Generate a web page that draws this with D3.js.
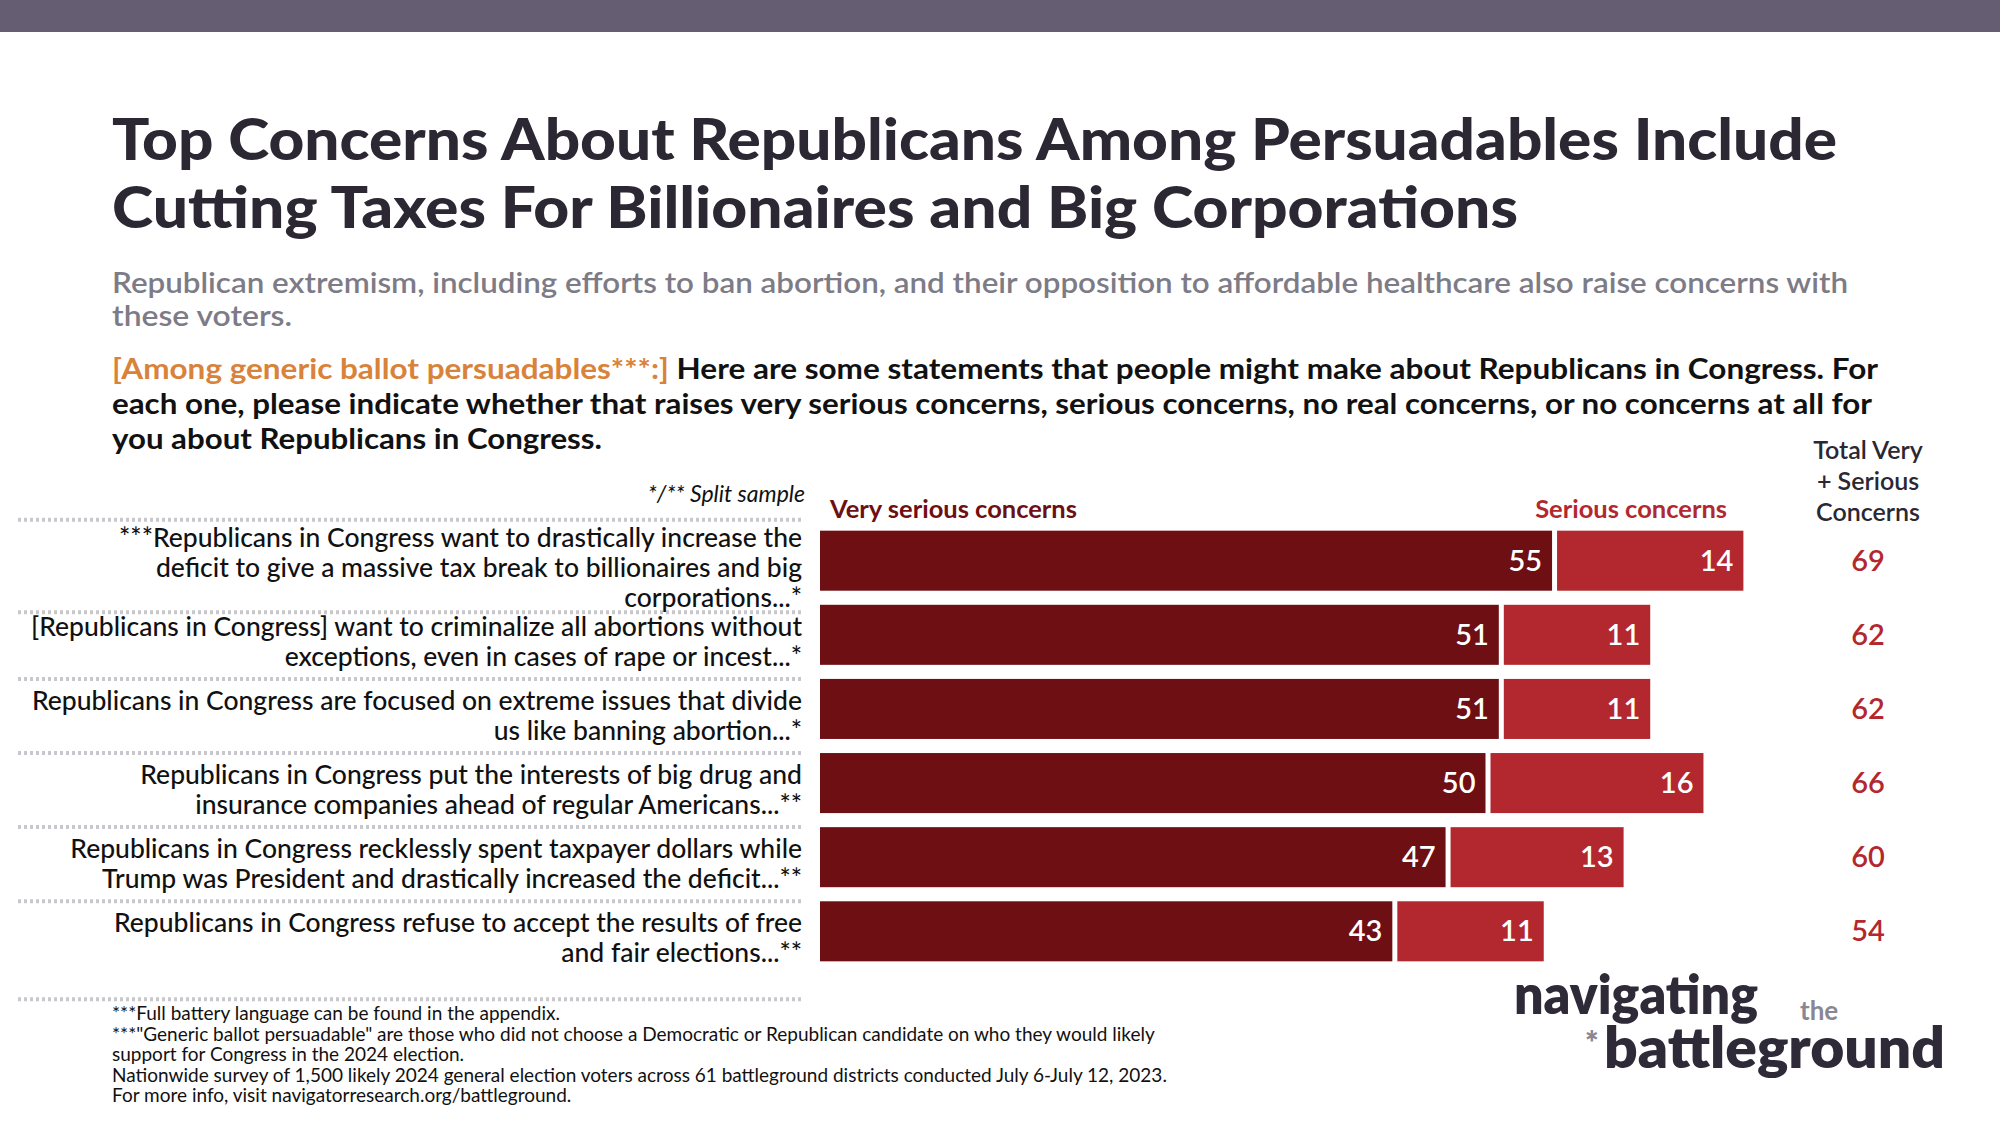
<!DOCTYPE html>
<html><head><meta charset="utf-8">
<script src="https://cdn.jsdelivr.net/npm/d3@7"></script>
<style>
body{margin:0;background:#fff;}
text{font-family:Lato,"Noto Sans",sans-serif;}
</style></head>
<body><svg id="chart" width="2000" height="1125"></svg>
<script>
var labels = [
  ['***Republicans in Congress want to drastically increase the', 'deficit to give a massive tax break to billionaires and big', 'corporations...*'],
  ['[Republicans in Congress] want to criminalize all abortions without', 'exceptions, even in cases of rape or incest...*'],
  ['Republicans in Congress are focused on extreme issues that divide', 'us like banning abortion...*'],
  ['Republicans in Congress put the interests of big drug and', 'insurance companies ahead of regular Americans...**'],
  ['Republicans in Congress recklessly spent taxpayer dollars while', 'Trump was President and drastically increased the deficit...**'],
  ['Republicans in Congress refuse to accept the results of free', 'and fair elections...**']
];
var verySerious = [55, 51, 51, 50, 47, 43];
var serious = [14, 11, 11, 16, 13, 11];
var totals = [69, 62, 62, 66, 60, 54];

var svg = d3.select('#chart');
var dark = '#6e0f13', red = '#b3282e';

svg.append('rect').attr('width', 2000).attr('height', 32).attr('fill', '#655e72');

function line(x, yy, size, weight, fill, txt, len) {
  var t = svg.append('text').attr('x', x).attr('y', yy).attr('font-size', size).attr('font-weight', weight).attr('fill', fill).text(txt);
  if (len) t.attr('textLength', len).attr('lengthAdjust', 'spacingAndGlyphs');
  return t;
}

// title
line(112, 160, 58, 900, '#2b2733', 'Top Concerns About Republicans Among Persuadables Include', 1725);
line(112, 228, 58, 900, '#2b2733', 'Cutting Taxes For Billionaires and Big Corporations', 1406);
line(112, 293, 29, 600, '#7d7b86', 'Republican extremism, including efforts to ban abortion, and their opposition to affordable healthcare also raise concerns with', 1736);
line(112, 326, 29, 600, '#7d7b86', 'these voters.', 180);

var q = line(112, 379, 29, 700, '#111', '', 1766);
q.append('tspan').attr('fill', '#d9823a').text('[Among generic ballot persuadables***:] ');
q.append('tspan').text('Here are some statements that people might make about Republicans in Congress. For');
line(112, 414, 29, 700, '#111', 'each one, please indicate whether that raises very serious concerns, serious concerns, no real concerns, or no concerns at all for', 1760);
line(112, 449, 29, 700, '#111', 'you about Republicans in Congress.', 490);

svg.append('text').attr('x', 805).attr('y', 502).attr('text-anchor', 'end').attr('font-size', 23).attr('font-style', 'italic').attr('fill', '#111')
  .text('*/** Split sample');

// scales
var x = d3.scaleLinear().domain([0, 100]).range([820, 2151]);
var y = d3.scaleBand().domain(d3.range(labels.length)).range([524, 968]).paddingInner(0.19).paddingOuter(0.09);
var gap = 5, lh = 30;

// legend
svg.append('text').attr('x', 830).attr('y', 518).attr('font-size', 25.5).attr('font-weight', 700).attr('fill', dark).text('Very serious concerns');
svg.append('text').attr('x', 1727).attr('y', 518).attr('text-anchor', 'end').attr('font-size', 25.5).attr('font-weight', 700).attr('fill', red).text('Serious concerns');
['Total Very', '+ Serious', 'Concerns'].forEach(function(t, i) {
  svg.append('text').attr('x', 1868).attr('y', 459 + i * 31).attr('text-anchor', 'middle').attr('font-size', 25).attr('font-weight', 600).attr('fill', '#2b2733').text(t);
});

// label line centres per row
var lineCentres = labels.map(function(d, i) {
  var c = y(i) + y.bandwidth() / 2 + 7;
  var top = c - (d.length - 1) * lh / 2;
  return d.map(function(l, j) { return top + j * lh; });
});

// separators between label blocks
var seps = [lineCentres[0][0] - 18];
for (var i = 1; i < labels.length; i++) {
  var prev = lineCentres[i - 1];
  seps.push((prev[prev.length - 1] + lineCentres[i][0]) / 2);
}
var last = lineCentres[labels.length - 1];
seps.push(last[last.length - 1] + 46);
svg.selectAll('.sep').data(seps).enter().append('line')
  .attr('x1', 18).attr('x2', 802).attr('y1', function(d) { return d; }).attr('y2', function(d) { return d; })
  .attr('stroke', '#c8c8cc').attr('stroke-width', 4).attr('stroke-dasharray', '3,3');

var rows = svg.selectAll('.row').data(labels).enter().append('g');
rows.append('rect').attr('x', x(0)).attr('y', function(d, i) { return y(i); })
  .attr('width', function(d, i) { return x(verySerious[i]) - x(0); }).attr('height', y.bandwidth()).attr('fill', dark);
rows.append('rect').attr('x', function(d, i) { return x(verySerious[i]) + gap; }).attr('y', function(d, i) { return y(i); })
  .attr('width', function(d, i) { return x(serious[i]) - x(0); }).attr('height', y.bandwidth()).attr('fill', red);
rows.append('text').attr('x', function(d, i) { return x(verySerious[i]) - 10; }).attr('y', function(d, i) { return y(i) + y.bandwidth() / 2 + 10; })
  .attr('text-anchor', 'end').attr('font-size', 29).attr('font-weight', 600).attr('fill', '#fff').text(function(d, i) { return verySerious[i]; });
rows.append('text').attr('x', function(d, i) { return x(verySerious[i] + serious[i]) + gap - 10; }).attr('y', function(d, i) { return y(i) + y.bandwidth() / 2 + 10; })
  .attr('text-anchor', 'end').attr('font-size', 29).attr('font-weight', 600).attr('fill', '#fff').text(function(d, i) { return serious[i]; });
rows.append('text').attr('x', 1868).attr('y', function(d, i) { return y(i) + y.bandwidth() / 2 + 10; })
  .attr('text-anchor', 'middle').attr('font-size', 29).attr('font-weight', 600).attr('fill', red).text(function(d, i) { return totals[i]; });

rows.each(function(d, i) {
  var g = d3.select(this);
  d.forEach(function(l, j) {
    g.append('text').attr('x', 802).attr('y', lineCentres[i][j] + 9)
      .attr('text-anchor', 'end').attr('font-size', 26.5).attr('font-weight', 500).attr('fill', '#111').text(l);
  });
});

// footnotes
['***Full battery language can be found in the appendix.',
 '***"Generic ballot persuadable" are those who did not choose a Democratic or Republican candidate on who they would likely',
 'support for Congress in the 2024 election.',
 'Nationwide survey of 1,500 likely 2024 general election voters across 61 battleground districts conducted July 6-July 12, 2023.',
 'For more info, visit navigatorresearch.org/battleground.'].forEach(function(t, i) {
  svg.append('text').attr('x', 112).attr('y', 1020 + i * 20.5).attr('font-size', 19).attr('fill', '#111').text(t);
});

// logo
line(1514, 1014, 54, 800, '#2e2a38', 'navigating', 244);
line(1800, 1020, 26, 700, '#8a8792', 'the');
line(1585, 1054, 32, 800, '#8a8792', '*');
line(1604, 1068, 56, 800, '#2e2a38', 'battleground', 341);
</script></body></html>
